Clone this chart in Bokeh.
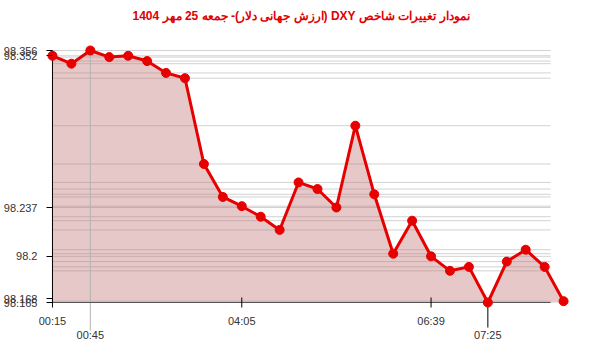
from bokeh.plotting import figure
from bokeh.models import Range1d, FixedTicker, CustomJSTickFormatter, ColumnDataSource
from bokeh.embed import file_html
from bokeh.resources import INLINE

# ---- data ----
title_text = "نمودار تغییرات شاخص DXY (ارزش جهانی دلار)- جمعه  25 مهر 1404"
values = [98.352, 98.346, 98.356, 98.351, 98.352, 98.348, 98.339, 98.335,
          98.270, 98.245, 98.238, 98.230, 98.220, 98.256, 98.251, 98.237,
          98.299, 98.247, 98.202, 98.227, 98.200, 98.189, 98.192, 98.165,
          98.196, 98.205, 98.192, 98.166]
x_tick_idx = [0, 2, 10, 20, 23]
x_tick_labels = ["00:15", "00:45", "04:05", "06:39", "07:25"]
x_tick_row = [0, 1, 0, 0, 1]
y_ticks = [98.165, 98.168, 98.2, 98.237, 98.352, 98.356]

idx = list(range(len(values)))
vmin, vmax = min(values), max(values)

# ---- layout geometry ----
W, H = 600, 352
left, right, top, bottom = 44, 20, 44, 20
frame_w = W - left - right
frame_h = H - top - bottom
px_idx = 19.0
x0_px = 6.0            # first point offset from frame left
top_pad_px = 6.0
px_unit = 252.0 / (vmax - vmin)
y_end = vmax + top_pad_px / px_unit
y_start = y_end - frame_h / px_unit
x_start = -x0_px / px_idx
x_end = x_start + frame_w / px_idx
x_axis_end = 500.0 / px_idx

p = figure(width=W, height=H, output_backend="svg", toolbar_location=None,
           x_range=Range1d(x_start, x_end), y_range=Range1d(y_start, y_end),
           min_border_left=left, min_border_right=right,
           min_border_top=top, min_border_bottom=bottom)
p.outline_line_color = None
p.xgrid.visible = False
p.ygrid.visible = False
p.background_fill_color = "white"
p.border_fill_color = "white"

p.title.text = "\u202B" + title_text + "\u202C\n"
p.title.align = "left"
p.title.offset = 86
p.title.vertical_align = "top"
p.title.standoff = 12
p.title.text_color = "#e00000"
p.title.text_font = "Liberation Sans"
p.title.text_font_size = "12px"
p.title.text_font_style = "bold"

# horizontal gridlines at each value
uniq = sorted(set(values))
p.segment(x0=[0] * len(uniq), y0=uniq, x1=[x_axis_end] * len(uniq), y1=uniq,
          line_color="#d2d2d2", line_width=1)

# area
p.varea(x=idx, y1=[vmin] * len(idx), y2=values, fill_color="#be6e6e", fill_alpha=0.38)

# vertical line at 00:45 and long tick at 07:25
row2 = [i for i, r in zip(x_tick_idx, x_tick_row) if r == 1]
long_bottom = vmin - 25 / px_unit
p.segment(x0=[row2[0]], y0=[vmax], x1=[row2[0]], y1=[vmin - 28 / px_unit],
          line_color="#b4b4b4", line_width=1)
p.segment(x0=[row2[1]], y0=[vmin], x1=[row2[1]], y1=[long_bottom],
          line_color="#000000", line_width=1)

# x axis line and short ticks
p.segment(x0=[0], y0=[vmin], x1=[x_axis_end], y1=[vmin], line_color="#555555", line_width=1)
row1 = [i for i, r in zip(x_tick_idx, x_tick_row) if r == 0]
p.segment(x0=row1, y0=[vmin + 5 / px_unit] * len(row1), x1=row1,
          y1=[vmin - 5 / px_unit] * len(row1), line_color="#000000", line_width=1)

# y axis line
p.segment(x0=[0], y0=[vmin], x1=[0], y1=[vmax], line_color="#000000", line_width=1)

# data line + markers
src = ColumnDataSource(dict(x=idx, y=values))
p.line("x", "y", source=src, line_color="#e60000", line_width=3)
p.scatter("x", "y", source=src, size=9, fill_color="#e60000", line_color="#e60000")

# y axis
ya = p.yaxis[0]
ya.ticker = FixedTicker(ticks=y_ticks)
ya.formatter = CustomJSTickFormatter(code="return String(Math.round(tick*1000)/1000);")
ya.axis_line_color = None
ya.major_tick_in = 6
ya.major_tick_out = 0
ya.major_tick_line_color = "#000000"
ya.minor_tick_line_color = None
ya.major_label_standoff = 9
ya.major_label_text_font = "Liberation Sans"
ya.major_label_text_font_size = "11px"
ya.major_label_text_color = "#333333"

# x axis
xa = p.xaxis[0]
xa.ticker = FixedTicker(ticks=x_tick_idx)
xa.major_label_overrides = {i: ("\n" + lab if r == 1 else lab)
                            for i, lab, r in zip(x_tick_idx, x_tick_labels, x_tick_row)}
xa.axis_line_color = None
xa.major_tick_line_color = None
xa.minor_tick_line_color = None
xa.major_tick_in = 0
xa.major_tick_out = 0
xa.major_label_standoff = -18
xa.major_label_text_font = "Liberation Sans"
xa.major_label_text_font_size = "11px"
xa.major_label_text_color = "#333333"

open("out.html", "w").write(file_html(p, INLINE))
